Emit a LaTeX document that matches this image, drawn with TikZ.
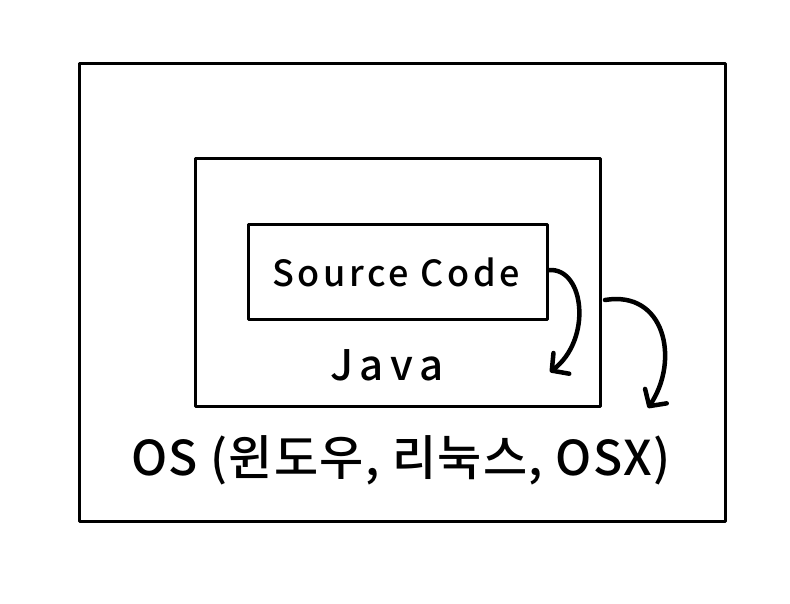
\documentclass[tikz,border=0pt]{standalone}
\usepackage{fontspec}
\setmainfont{Noto Sans}
\newfontfamily\krfont{Noto Sans CJK KR}[UprightFont=* Medium]
\usetikzlibrary{arrows.meta}
\begin{document}
\begin{tikzpicture}[x=1pt,y=-1pt,
  boxline/.style={draw=black,line width=3pt,line join=round},
  curvearrow/.style={draw=black,line width=4.5pt,line cap=round,
    -{Straight Barb[length=12pt,width=26pt,line width=4.5pt,round]}},
  lbl/.style={inner sep=0pt}]
\useasboundingbox (0,0) rectangle (790,604);
\node[boxline,minimum width=646pt,minimum height=458pt,anchor=north west] (os) at (78,62) {};
\node[boxline,minimum width=405pt,minimum height=248pt,anchor=north west] (java) at (194,157) {};
\node[boxline,minimum width=299pt,minimum height=95pt,anchor=north west] (src) at (247,223) {};
\node[lbl,font=\krfont\fontsize{36}{40}\selectfont\addfontfeatures{LetterSpace=10}] (srct) at (396,272) {Source Code};
\node[lbl,font=\krfont\fontsize{42}{46}\selectfont\addfontfeatures{LetterSpace=16}] (javat) at (387,365) {Java};
\node[lbl,font=\krfont\fontsize{48}{52}\selectfont\addfontfeatures{LetterSpace=3}] (ost) at (401,460) {OS (윈도우, 리눅스, OSX)};
\coordinate (a1s) at (549,270);
\coordinate (a1e) at (550,372);
\coordinate (a2s) at (605,300);
\coordinate (a2e) at (648,408);
\draw[curvearrow] (a1s) .. controls (585,268) and (592,340) .. (a1e);
\draw[curvearrow] (a2s) .. controls (665,290) and (680,360) .. (a2e);
\end{tikzpicture}
\end{document}
